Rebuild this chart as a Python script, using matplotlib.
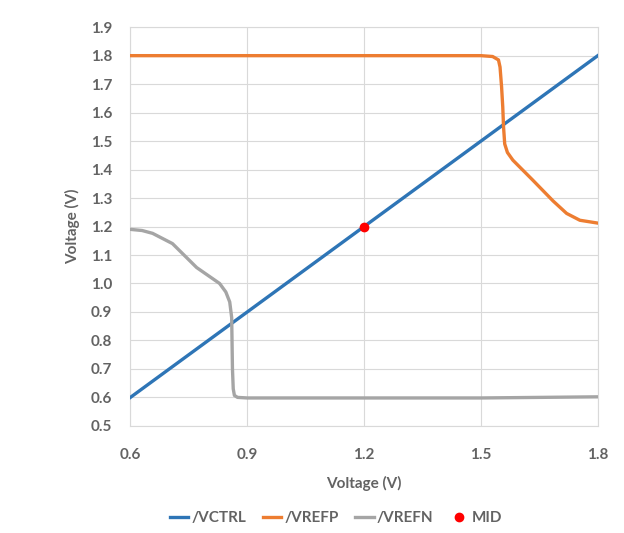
import numpy as np
import matplotlib
matplotlib.use("Agg")
from matplotlib import pyplot as plt

plt.rcParams['font.family'] = ['Lato', 'DejaVu Sans']

# /VCTRL sweep (straight line)
vctrl_x = [0.6, 1.8]
vctrl_y = [0.6, 1.8]

# /VREFP
vrefp_x = [0.6, 1.0, 1.4, 1.50, 1.53, 1.545, 1.549, 1.553, 1.556, 1.558, 1.561, 1.568, 1.582, 1.633, 1.685, 1.72, 1.754, 1.8]
vrefp_y = [1.8, 1.8, 1.8, 1.8, 1.797, 1.785, 1.76, 1.69, 1.62, 1.55, 1.49, 1.46, 1.433, 1.363, 1.29, 1.246, 1.222, 1.212]

# /VREFN
vrefn_x = [0.6, 0.63, 0.657, 0.708, 0.77, 0.829, 0.845, 0.855, 0.86, 0.862, 0.864, 0.867, 0.875, 0.9, 1.2, 1.5, 1.8]
vrefn_y = [1.19, 1.186, 1.176, 1.14, 1.056, 1.0, 0.97, 0.935, 0.88, 0.70, 0.63, 0.607, 0.60, 0.598, 0.598, 0.598, 0.602]

# MID point
mid_x = [1.2]
mid_y = [1.2]

xticks = [0.6, 0.9, 1.2, 1.5, 1.8]
yticks = np.round(np.arange(0.5, 1.91, 0.1), 1)

txt = '#636363'

fig = plt.figure(figsize=(6.24, 5.33), dpi=100)
ax = fig.add_axes([0.209, 0.201, 0.749, 0.748])

ax.plot(vctrl_x, vctrl_y, color='#2E75B6', lw=2.4, label='/VCTRL', zorder=3)
ax.plot(vrefp_x, vrefp_y, color='#ED7D31', lw=2.4, label='/VREFP', zorder=3)
ax.plot(vrefn_x, vrefn_y, color='#A5A5A5', lw=2.4, label='/VREFN', zorder=3)
ax.plot(mid_x, mid_y, 'o', color='#FF0000', ms=6, label='MID', zorder=4)

ax.set_xlim(0.6, 1.8)
ax.set_ylim(0.5, 1.9)
ax.set_xticks(xticks)
ax.set_yticks(yticks)
ax.set_xticklabels([f'{t:.1f}' for t in xticks], fontweight='bold')
ax.set_yticklabels([f'{t:.1f}' for t in yticks], fontweight='bold')
ax.grid(True, color='#D9D9D9', lw=0.8)
ax.set_axisbelow(True)
for s in ax.spines.values():
    s.set_color('#D9D9D9')
    s.set_linewidth(0.8)
ax.tick_params(axis='y', length=0, labelsize=11, colors=txt, pad=13)
ax.tick_params(axis='x', length=0, labelsize=11, colors=txt, pad=16)

ax.set_xlabel('Voltage (V)', fontsize=11, color=txt, fontweight='bold', labelpad=10)
ax.set_ylabel('Voltage (V)', fontsize=11, color=txt, fontweight='bold', labelpad=8)

ax.legend(loc='center', bbox_to_anchor=(0.44, -0.232), ncol=4, frameon=False,
          prop={'size': 11, 'weight': 'bold'}, labelcolor=txt, handlelength=1.2,
          handletextpad=0.2, columnspacing=1.1)

fig.savefig('out.png', dpi=100)
